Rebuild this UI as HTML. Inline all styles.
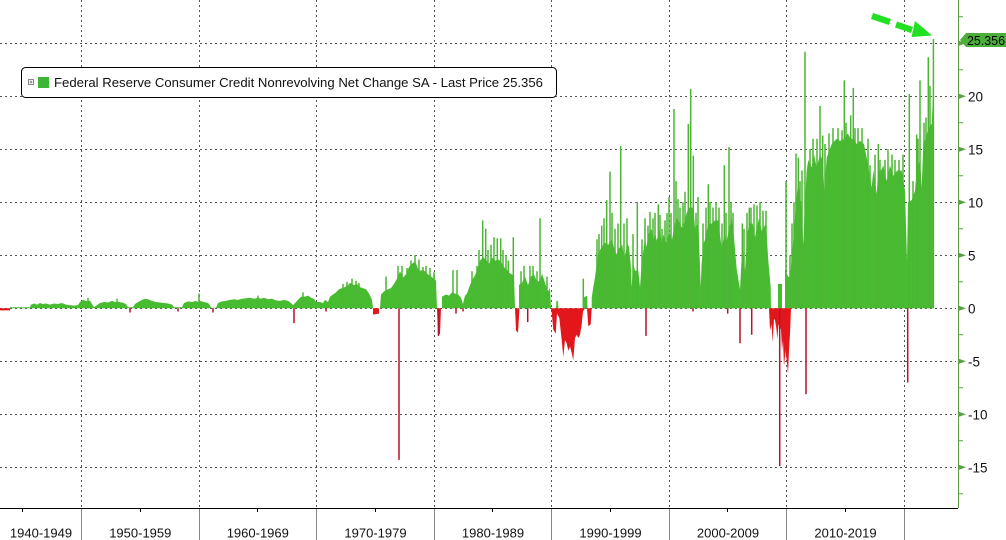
<!DOCTYPE html>
<html><head><meta charset="utf-8"><style>
html,body{margin:0;padding:0;background:#fff;}
svg{display:block;font-family:"Liberation Sans",sans-serif;}
</style></head><body>
<svg width="1006" height="540" viewBox="0 0 1006 540" xmlns="http://www.w3.org/2000/svg">
<rect width="1006" height="540" fill="#fff"/>
<path stroke="#555" stroke-width="1" stroke-dasharray="2,3" fill="none" d="M0 43.5H956M0 96.5H956M0 149.5H956M0 202.5H956M0 255.5H956M0 308.5H956M0 361.5H956M0 414.5H956M0 467.5H956M81.5 0V508M199.5 0V508M316.5 0V508M434.5 0V508M551.5 0V508M669.5 0V508M786.5 0V508M904.5 0V508"/>
<g transform="translate(0,308.3) scale(1,-10.6)">
<path fill="#48bc30" d="M10 0 L10 0.1 L30 0.1 L31 0.35 L34 0.45 L37 0.35 L40 0.5 L43 0.4 L46 0.45 L50 0.35 L54 0.45 L58 0.4 L62 0.5 L66 0.35 L70 0.3 L74 0.25 L78 0.3 L80 0.6 L83 0.8 L86 0.7 L90 0.7 L92 0.4 L94 0.1 L97 0.3 L100 0.5 L104 0.6 L108 0.55 L112 0.7 L115 0.6 L119 0.6 L122 0.55 L126 0.4 L128 0.1 L133 0.1 L135 0.4 L138 0.6 L142 0.8 L145 0.9 L148 0.85 L152 0.7 L156 0.6 L160 0.55 L164 0.5 L168 0.45 L172 0.35 L174 0.1 L182 0.1 L184 0.5 L188 0.65 L192 0.6 L196 0.7 L198 0.6 L200 0.7 L204 0.6 L208 0.5 L210 0.3 L211 0.05 L216 0.05 L218 0.5 L222 0.65 L226 0.7 L230 0.8 L234 0.85 L238 0.8 L242 0.9 L246 0.95 L250 1.0 L254 0.9 L258 1.0 L261 0.9 L264 1.0 L268 0.85 L272 0.9 L276 0.75 L280 0.7 L284 0.8 L288 0.7 L291 0.5 L293 0.3 L296 0.6 L299 0.9 L301 1.1 L305 1.1 L308 1.2 L311 1.0 L314 0.9 L316 0.6 L320 0.6 L323 0.5 L325 0.8 L328 0.6 L330 1.1 L333 1.3 L336 1.5 L339 1.8 L342 1.9 L345 2.0 L348 2.2 L350 2.4 L354 2.2 L357 2.3 L360 2.0 L363 1.9 L366 1.8 L369 1.4 L372 0.8 L373 0 L380 0 L381 1.3 L384 1.6 L388 1.8 L391 1.9 L394 2.3 L397 2.8 L400 3.5 L403 2.9 L406 3.2 L409 3.9 L412 4.2 L415 4.4 L417 4.0 L419 3.5 L422 3.6 L425 3.5 L428 3.2 L431 3.0 L434 2.8 L436 2.6 L437 0 L442 0 L442 1.1 L446 1.3 L449 1.2 L452 1.5 L455 1.4 L458 1.3 L461 1.0 L463 0.4 L465 1.2 L467 1.4 L470 2.2 L473 2.8 L476 3.3 L480 4.5 L483 4.8 L486 4.6 L489 4.2 L492 4.8 L495 4.5 L498 4.6 L501 4.4 L504 3.9 L507 3.6 L510 3.3 L512 3.2 L514 3.0 L515 0 L519 0 L519 2.2 L522 2.4 L525 3.0 L528 2.2 L531 3.0 L534 3.2 L537 2.5 L540 2.6 L542 3.3 L545 2.4 L548 1.6 L550 1.9 L551 0 L556 0 L556.5 0.7 L558 0.7 L558.5 0 L583 0 L583.5 1.0 L587 1.2 L587.5 0 L591.7 0 L591.7 1.0 L593.3 2.0 L595 2.9 L596.7 4.2 L598.3 5.2 L600 5.5 L603.3 6.0 L605 6.2 L608.3 6.0 L611.7 6.5 L613.3 6.0 L615 5.4 L616.7 5.1 L618.3 5.6 L622.3 6.0 L624 4.8 L626 5.4 L627.3 6.1 L629 5.8 L630.7 4.2 L631.7 2.0 L633.3 4.2 L635 3.55 L638.3 3.55 L640 2.0 L641.7 4.2 L643.3 5.4 L645 6.5 L646.7 5.8 L648.3 7.0 L651.7 7.5 L653.3 6.4 L655 7.2 L656.7 6.4 L660 7.5 L661.7 6.0 L663.3 7.0 L665 6.5 L666.7 6.1 L668.3 7.0 L670 7.0 L672 6.5 L675 8.0 L677 8.5 L680 8.0 L682 7.6 L684 8.0 L686.7 9.0 L689 9.5 L693.3 9.5 L695 7.6 L698.3 8.0 L700 4.0 L700.7 2.0 L701.5 4.0 L703.3 6.0 L705 6.5 L708.3 8.0 L711.7 8.0 L715 8.3 L718.3 8.3 L721.7 5.6 L724.3 7.0 L726.7 6.4 L729 7.5 L731.7 8.5 L734 6.7 L736.7 3.7 L740 1.8 L742.3 6.0 L745 3.5 L747.3 7.0 L749.3 8.0 L752.7 8.0 L755 6.7 L759 8.5 L761.7 7.3 L766 8.0 L768.3 4.5 L770.7 2.0 L771 0 L778 0 L778 2.3 L782 2.3 L782 0 L785 0 L785 3.7 L788 3.0 L790 2.9 L793.3 6.4 L796 10 L798.3 12 L801.7 9.4 L803.3 6.0 L805 10 L806.7 13.0 L808.3 14.0 L811.7 13.3 L814 14.5 L816.7 13.3 L820 14.5 L822.7 14.0 L824.3 11.1 L826.7 14.2 L831.7 15.5 L836.7 16.0 L840 15.8 L844.3 16.0 L847.7 16.5 L850.7 16.0 L853.3 16.0 L856.7 15.5 L860 15.8 L864 15.5 L866.7 14.2 L871.7 11.4 L873.3 13.0 L876.7 10.8 L878.3 13.0 L881 13.0 L883.3 13.5 L886.7 12.0 L890 13.5 L893.3 12.5 L897.3 13.0 L901.7 13.0 L905 11.1 L907 4.5 L908 10 L911.7 10.2 L915 11.1 L916.7 13 L920 14 L921.7 11.4 L923.3 15.5 L925.7 16.0 L928.3 17 L931.7 17.4 L933 20 L934 20 L934 0 Z"/>
<path stroke="#4cb634" stroke-width="1.5" fill="none" d="M88 0V1M117 0V0.9M199 0V1.4M258 0V1.2M303 0V1.5M343 0V2.3M347 0V2.5M352 0V2.8M356 0V2.6M359 0V2.4M386 0V3M398 0V4M402 0V4M407 0V3.8M411 0V4.5M415 0V5M419 0V4.6M423 0V3.9M426 0V4M430 0V3.8M434 0V3.4M453 0V3.6M457 0V3.6M472 0V3.5M477 0V4M479 0V5.5M482.7 0V8.3M485.7 0V7.5M488 0V5.5M491 0V6M494 0V6.7M497.3 0V6.6M500.7 0V6.6M503 0V5.5M506 0V5M508.3 0V4.5M513.3 0V6.7M521 0V3.5M524 0V4M530 0V4M533 0V4M537 0V3.5M540 0V8.5M547 0V3M583.3 0V2.8M597 0V6.5M599 0V7M601.7 0V7.8M604 0V8.5M606.7 0V10.2M610 0V12.9M612 0V9M615 0V7.5M618 0V8M620.7 0V15.3M624 0V8M627 0V8.5M633 0V7M637.3 0V10M642 0V6.5M645 0V8.5M648 0V7.8M650 0V9.1M653 0V8.5M655 0V9M658.3 0V9.8M660 0V8.8M662 0V7.5M665 0V8.3M667 0V9M669 0V10.5M671 0V9M674 0V18.8M676 0V12M678 0V10.3M680 0V9.5M683 0V10M685 0V11M688.3 0V17.4M690.7 0V20.7M693.3 0V14.4M696 0V9M698 0V10.5M703 0V8M706 0V9.5M708.3 0V11.7M710 0V10M713 0V9.5M716 0V10M719 0V9.5M722 0V8M724.3 0V13.5M726 0V9M729 0V15.2M731 0V10M733 0V9M742.3 0V8M744 0V7.5M747 0V9M749.3 0V9.5M751 0V9.5M754 0V9.8M757 0V9.7M760 0V10M763 0V9.2M766 0V9.2M786 0V12M790 0V5M792 0V8M794 0V10M796 0V14.6M798.3 0V14.2M800 0V12M802 0V13M805 0V24.2M810 0V15M813 0V16M817 0V16M820 0V19.1M822.7 0V16.3M825 0V15.5M829 0V16.5M833 0V17M838 0V17M842 0V16.8M844.3 0V21.5M846 0V17.5M850.7 0V18.2M853.3 0V20.8M855 0V17M858 0V17M862 0V17M868 0V16M870 0V13.5M875 0V14.5M878.3 0V15.5M880 0V14M885 0V14M888 0V15M892 0V14.5M895 0V14M899 0V14M903 0V14.5M909.3 0V20.2M913 0V12M916.7 0V16.4M918 0V16M920 0V21.5M924 0V17.5M926 0V18M928.3 0V23.7M930 0V21M933.4 0V25.4"/>
<path fill="#e3161c" d="M551 0 L551.7 -0.4 L553.3 -2.0 L555.7 -2.4 L557 -0.5 L559.3 -0.9 L561.7 -3.0 L563.3 -4.6 L565 -3.0 L566.7 -3.3 L568.3 -4.0 L570 -3.6 L571.7 -4.2 L573.3 -4.9 L575 -2.8 L576.7 -2.5 L578.3 -2.8 L580 -2.5 L581.7 -1.5 L583 -0.3 L585 0 L587 0 L588.3 -1.7 L590.7 -1.5 L591.7 0 Z M769 0 L770 -2.1 L771.5 -1.5 L772.7 -3.2 L774 -1.0 L775 -1.1 L776.5 -2.0 L777.3 -2.9 L778.5 -1.5 L781 -2.0 L782 -4.0 L783 -3.0 L784 -5.5 L785.5 -4.0 L786.7 -4.9 L788 -6.2 L789 -4.0 L790 -2.4 L791 0 Z M0 0 L0 -0.2 L10 -0.2 L10 0 Z M373 0 L373 -0.6 L379 -0.5 L379 0 Z M437 0 L438 -2.6 L440 -2.4 L441 0 Z M515 0 L516 -2.1 L518 -2.3 L519.5 0 Z"/>
<path stroke="#b3142a" stroke-width="1.5" fill="none" d="M294 0V-1.4M399 0V-14.3M438.5 0V-2.6M527.7 0V-1.3M646 0V-2.6M740 0V-3.3M751.7 0V-2.5M779.7 0V-14.9M806 0V-8.1M907.7 0V-7M130 0V-0.4M178 0V-0.3M213 0V-0.4M326 0V-0.3M456 0V-0.5M463 0V-0.3M727.7 0V-0.5M693 0V-0.3"/>
</g>
<line x1="958.5" y1="0" x2="958.5" y2="508" stroke="#5a9e48" stroke-width="1"/>
<path fill="#5a9e48" d="M958 40.5L966 43.3L958 46.1ZM958 93.5L966 96.3L958 99.1ZM958 146.5L966 149.3L958 152.1ZM958 199.5L966 202.3L958 205.1ZM958 252.5L966 255.3L958 258.1ZM958 305.5L966 308.3L958 311.1ZM958 358.5L966 361.3L958 364.1ZM958 411.5L966 414.3L958 417.1ZM958 464.5L966 467.3L958 470.1Z"/>
<path stroke="#5a9e48" stroke-width="1" d="M958 16.8H963M958 69.8H963M958 122.8H963M958 175.8H963M958 228.8H963M958 281.8H963M958 334.8H963M958 387.8H963M958 440.8H963M958 493.8H963"/>
<g font-size="13.5" fill="#111">
<text x="968" y="101.3">20</text>
<text x="968" y="154.3">15</text>
<text x="968" y="207.3">10</text>
<text x="968" y="260.3">5</text>
<text x="968" y="313.3">0</text>
<text x="968" y="366.3">-5</text>
<text x="968" y="419.3">-10</text>
<text x="968" y="472.3">-15</text>
</g>
<polygon points="960,40 966,33 1006,33 1006,47 966,47" fill="#4caf3c"/>
<text x="967" y="45" font-size="13" fill="#000" textLength="38" lengthAdjust="spacingAndGlyphs">25.356</text>
<line x1="0" y1="508.5" x2="958" y2="508.5" stroke="#000" stroke-width="1"/>
<path stroke="#888" stroke-width="1" d="M81.5 509V540M199.5 509V540M316.5 509V540M434.5 509V540M551.5 509V540M669.5 509V540M786.5 509V540M904.5 509V540"/>
<path stroke="#000" stroke-width="1" d="M22.5 509V512M140.5 509V512M257.5 509V512M375.5 509V512M492.5 509V512M610.5 509V512M727.5 509V512M845.5 509V512"/>
<g font-size="13" fill="#111" text-anchor="middle">
<text x="41" y="537.5">1940-1949</text>
<text x="140.3" y="537.5">1950-1959</text>
<text x="257.8" y="537.5">1960-1969</text>
<text x="375.5" y="537.5">1970-1979</text>
<text x="493" y="537.5">1980-1989</text>
<text x="610.5" y="537.5">1990-1999</text>
<text x="728" y="537.5">2000-2009</text>
<text x="845.5" y="537.5">2010-2019</text>
</g>
<rect x="21.5" y="67.5" width="535" height="30" rx="4" ry="4" fill="#fff" stroke="#000" stroke-width="1"/>
<rect x="28.5" y="79.5" width="5" height="5" fill="#fff" stroke="#888" stroke-width="1"/>
<path stroke="#666" stroke-width="0.8" d="M29.5 82H32.5M31 80.5V83.5"/>
<rect x="38" y="77" width="11" height="11" fill="#3fb535"/>
<text x="54" y="87" font-size="13" fill="#111" textLength="489" lengthAdjust="spacingAndGlyphs">Federal Reserve Consumer Credit Nonrevolving Net Change SA - Last Price 25.356</text>
<path fill="#22e022" d="M873 13L891 19L889 25L871 19ZM897 21.5L913 27L911 33L895 27.5ZM915 21L932 35.5L911.5 37Z"/>
</svg>
</body></html>
